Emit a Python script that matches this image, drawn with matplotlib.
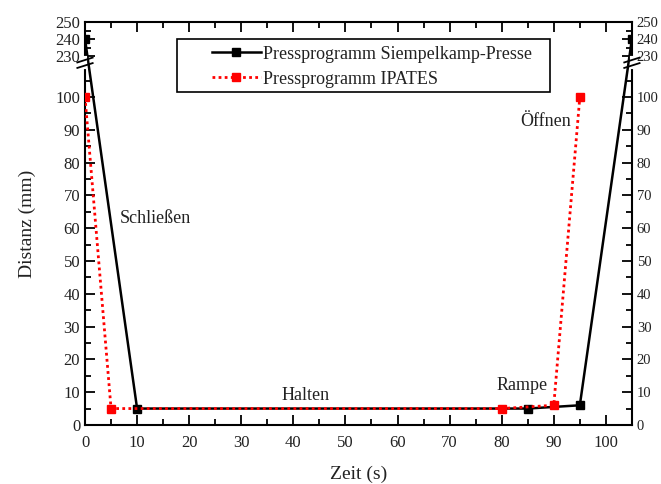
import numpy as np
import matplotlib
matplotlib.use('Agg')
import matplotlib.pyplot as plt
from matplotlib.patches import Rectangle

# =============================================================================
# Data
# =============================================================================
zeit_siempelkamp = [0, 10, 85, 95, 105]
distanz_siempelkamp = [240, 5, 5, 6, 240]

zeit_ipates = [0, 5, 80, 90, 95]
distanz_ipates = [100, 5, 5, 6, 100]

major_yticks = [0, 10, 20, 30, 40, 50, 60, 70, 80, 90, 100, 230, 240, 250]
minor_yticks = [5, 15, 25, 35, 45, 55, 65, 75, 85, 95, 105, 235, 245]

# broken axis: lower part 0..109.5 linear, upper part 229..250 compressed
LOW_TOP = 109.5
UP_BOT = 229.0
GAP_TOP = 112.0
K_UP = 0.518


def fwd(y):
    y = np.asarray(y, dtype=float)
    return np.where(y <= LOW_TOP, y,
                    np.where(y >= UP_BOT, GAP_TOP + (y - UP_BOT) * K_UP,
                             LOW_TOP + (y - LOW_TOP) * (GAP_TOP - LOW_TOP) / (UP_BOT - LOW_TOP)))


def inv(v):
    v = np.asarray(v, dtype=float)
    return np.where(v <= LOW_TOP, v,
                    np.where(v >= GAP_TOP, UP_BOT + (v - GAP_TOP) / K_UP,
                             LOW_TOP + (v - LOW_TOP) * (UP_BOT - LOW_TOP) / (GAP_TOP - LOW_TOP)))


plt.rcParams['font.family'] = ['Liberation Serif', 'DejaVu Serif']
txt_color = '#222222'

# =============================================================================
# Plot
# =============================================================================
fig = plt.figure(figsize=(6.61, 4.84), dpi=100)
ax = fig.add_axes([0.1286, 0.122, 0.8274, 0.8325])

ax.plot(zeit_siempelkamp, distanz_siempelkamp, color='black', lw=1.8,
        marker='s', ms=6, label='Pressprogramm Siempelkamp-Presse', zorder=3)
ax.plot(zeit_ipates, distanz_ipates, color='red', lw=2, ls=(0, (1, 1.2)),
        marker='s', ms=6, label='Pressprogramm IPATES', zorder=4)

ax.set_yscale('function', functions=(fwd, inv))
ax.set_xlim(0, 105)
ax.set_ylim(0, 250)
ax.set_yticks(major_yticks)
ax.set_yticks(minor_yticks, minor=True)
ax.set_xticks(np.arange(0, 101, 10))
ax.set_xticks(np.arange(5, 106, 10), minor=True)
ax.tick_params(which='both', direction='in', top=True, right=True,
               labelright=True, labelsize=12, labelcolor=txt_color, width=1.3)
ax.tick_params(which='major', length=7)
ax.tick_params(axis='x', which='major', pad=7)
ax.tick_params(axis='y', which='major', pad=3.5)
ax.tick_params(which='minor', length=4)
# right-hand labels a bit smaller so they stay inside the figure
for tk in ax.yaxis.get_major_ticks():
    tk.label2.set_fontsize(10.5)
for sp in ax.spines.values():
    sp.set_linewidth(1.5)

ax.set_xlabel('Zeit (s)', fontsize=14, labelpad=10.5, color=txt_color)
ax.set_ylabel('Distanz (mm)', fontsize=14, labelpad=14, color=txt_color)

# break marks on both y axes
y1 = (425 - 60) / 403.0
y2 = (425 - 65.5) / 403.0
for xa in (0.0, 1.0):
    ax.plot([xa, xa], [y1 + 0.004, y2 - 0.004], transform=ax.transAxes,
            color='white', lw=3, clip_on=False, zorder=10)
    for yb in (y1, y2):
        ax.plot([xa - 0.014, xa + 0.014], [yb - 0.006, yb + 0.006],
                transform=ax.transAxes, color='black', lw=1.3,
                clip_on=False, zorder=11)

# phase labels
ax.text(13.5, 63, 'Schließen', fontsize=13, ha='center', va='center', color=txt_color)
ax.text(42.3, 9, 'Halten', fontsize=13, ha='center', va='center', color=txt_color)
ax.text(84, 12, 'Rampe', fontsize=13, ha='center', va='center', color=txt_color)
ax.text(88.5, 92.5, 'Öffnen', fontsize=13, ha='center', va='center', color=txt_color)

# legend box like Origin: wide left margin before the handles
ax.add_patch(Rectangle((92 / 547.0, 1 - 17 / 403.0), 373 / 547.0, -53 / 403.0,
                       transform=ax.transAxes, fill=False, edgecolor='black',
                       lw=1.2, zorder=12))
leg = ax.legend(loc='upper left', bbox_to_anchor=(0.222, 0.955), fontsize=13,
                frameon=False, borderpad=0.3, handlelength=2.7, handletextpad=0.15,
                labelspacing=0.45, borderaxespad=0)
for t in leg.get_texts():
    t.set_color(txt_color)

fig.savefig('out.png', dpi=100)
